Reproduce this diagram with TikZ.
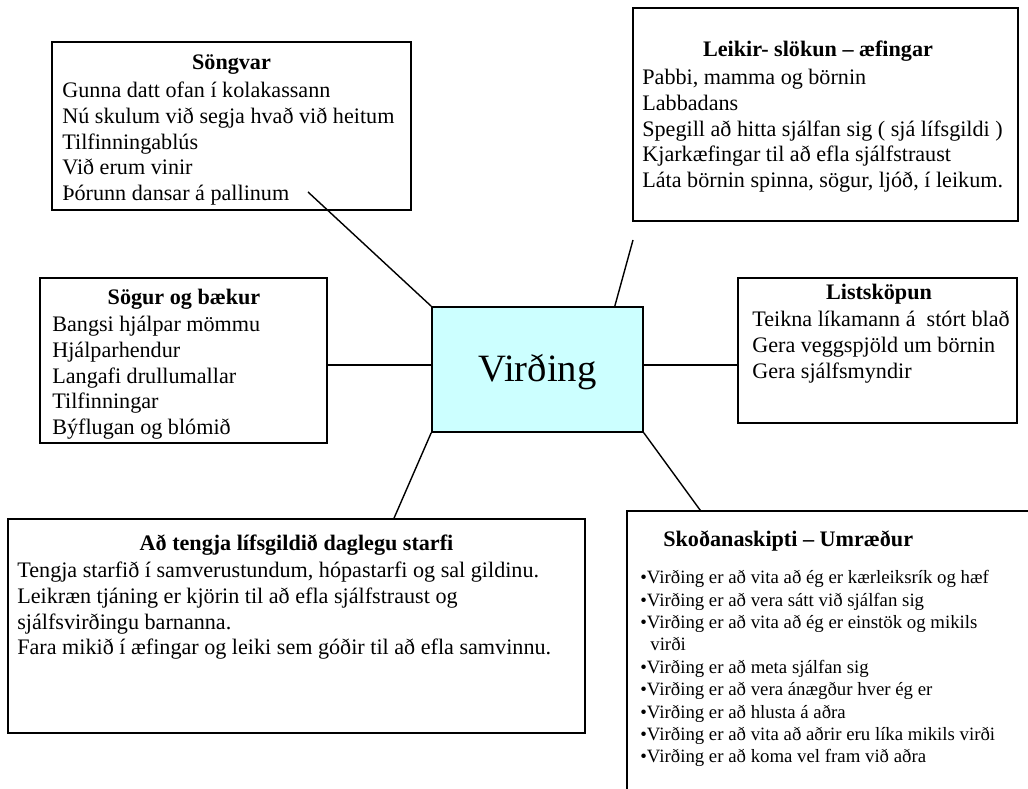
\documentclass[tikz,border=0pt]{standalone}
\usepackage{fontspec}
\setmainfont{Liberation Serif}
\usetikzlibrary{positioning}

\begin{document}
\begin{tikzpicture}[
  box/.style = {draw, line width=0.9pt, inner sep=0pt},
  head/.style = {anchor=base, inner sep=0pt, font=\fontsize{12.6}{14.6}\selectfont\bfseries},
  body/.style = {anchor=north west, inner sep=0pt, align=left, font=\fontsize{12.6}{14.6}\selectfont},
  link/.style = {line width=0.8pt}
]
\useasboundingbox (0,0) rectangle (20.56,15.76);
\clip (0,0) rectangle (20.56,15.76);

% centre
\node [box, fill={rgb,255:red,204;green,255;blue,255}, minimum width=4.22cm, minimum height=2.5cm] (virding) at (10.75,8.37) {};
\node [anchor=base, inner sep=0pt, font=\fontsize{22}{26}\selectfont] (virding-txt) at (10.75,8.12) {Virðing};

% Söngvar
\node [box, minimum width=7.18cm, minimum height=3.36cm] (songvar) at (4.63,13.24) {};
\node [head] (songvar-head) at (4.63,14.36) {Söngvar};
\node [body] (songvar-body) at (1.24,14.12) {Gunna datt ofan í kolakassann\\
Nú skulum við segja hvað við heitum\\
Tilfinningablús\\
Við erum vinir\\
Þórunn dansar á pallinum};

% Leikir
\node [box, minimum width=7.7cm, minimum height=4.26cm] (leikir) at (16.51,13.47) {};
\node [head] (leikir-head) at (16.36,14.62) {Leikir- slökun – æfingar};
\node [body] (leikir-body) at (12.84,14.38) {Pabbi, mamma og börnin\\
Labbadans\\
Spegill að hitta sjálfan sig ( sjá lífsgildi )\\
Kjarkæfingar til að efla sjálfstraust\\
Láta börnin spinna, sögur, ljóð, í leikum.};

% Listsköpun
\node [box, minimum width=5.58cm, minimum height=2.9cm] (listskopun) at (17.55,8.75) {};
\node [head] (listskopun-head) at (17.58,9.76) {Listsköpun};
\node [body] (listskopun-body) at (15.04,9.54) {Teikna líkamann á \ stórt blað\\
Gera veggspjöld um börnin\\
Gera sjálfsmyndir};

% Sögur og bækur
\node [box, minimum width=5.74cm, minimum height=3.3cm] (sogur) at (3.67,8.55) {};
\node [head] (sogur-head) at (3.68,9.66) {Sögur og bækur};
\node [body] (sogur-body) at (1.04,9.44) {Bangsi hjálpar mömmu\\
Hjálparhendur\\
Langafi drullumallar\\
Tilfinningar\\
Býflugan og blómið};

% Að tengja
\node [box, minimum width=11.54cm, minimum height=4.28cm] (tengja) at (5.93,3.24) {};
\node [head] (tengja-head) at (5.93,4.74) {Að tengja lífsgildið daglegu starfi};
\node [body] (tengja-body) at (0.34,4.52) {Tengja starfið í samverustundum, hópastarfi og sal gildinu.\\
Leikræn tjáning er kjörin til að efla sjálfstraust og\\
sjálfsvirðingu barnanna.\\
Fara mikið í æfingar og leiki sem góðir til að efla samvinnu.};

% Skoðanaskipti
\node [box, minimum width=8.46cm, minimum height=5.98cm] (skodun) at (16.77,2.55) {};
\node [head, anchor=base west] (skodun-head) at (13.26,4.82) {Skoðanaskipti – Umræður};
\node [body, font=\fontsize{10.7}{12.76}\selectfont] (skodun-body) at (12.8,4.36) {•Virðing er að vita að ég er kærleiksrík og hæf\\
•Virðing er að vera sátt við sjálfan sig\\
•Virðing er að vita að ég er einstök og mikils\\
\hspace*{0.2cm}virði\\
•Virðing er að meta sjálfan sig\\
•Virðing er að vera ánægður hver ég er\\
•Virðing er að hlusta á aðra\\
•Virðing er að vita að aðrir eru líka mikils virði\\
•Virðing er að koma vel fram við aðra};

% spokes
\coordinate (songvar-end) at (6.16,11.92);
\coordinate (leikir-end) at (12.66,10.96);
\draw [link] (songvar-end) -- (virding.north west);
\draw [link] (leikir-end) -- ([xshift=-5.8mm]virding.north east);
\draw [link] ([yshift=0.9mm]virding.east) -- ([yshift=0.9mm]virding.east -| listskopun.west);
\draw [link] ([yshift=0.9mm]virding.west) -- ([yshift=0.9mm]virding.west -| sogur.east);
\draw [link] (virding.south west) -- ([xshift=19.5mm]tengja.north);
\draw [link] (virding.south east) -- ([xshift=14.8mm]skodun.north west);
\end{tikzpicture}
\end{document}
